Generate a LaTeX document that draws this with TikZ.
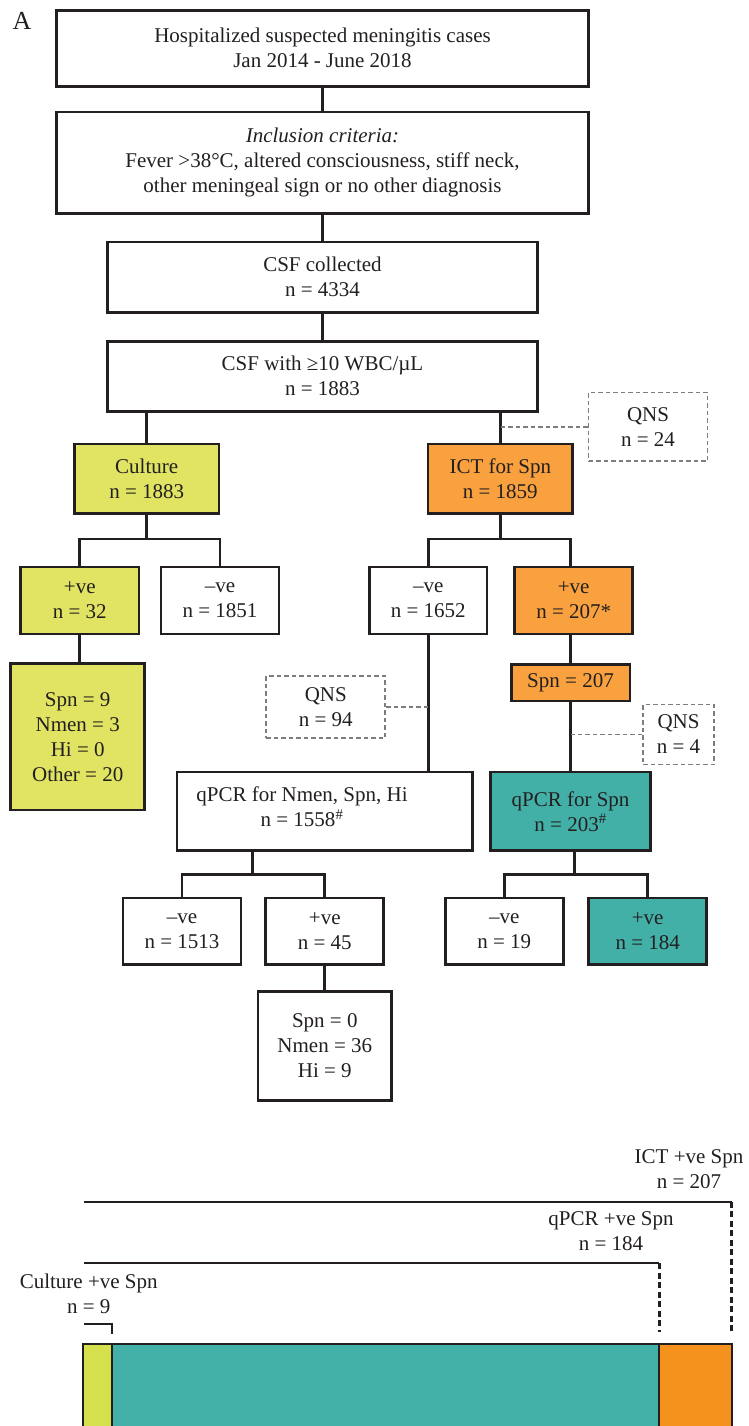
\documentclass[tikz,border=0pt]{standalone}
\usepackage{fontspec}
\setmainfont{Liberation Serif}
\definecolor{linec}{HTML}{231F20}
\definecolor{txt}{HTML}{231F20}
\definecolor{qgray}{HTML}{7D7D7D}
\definecolor{ybox}{HTML}{E0E462}
\definecolor{obox}{HTML}{F8A13E}
\definecolor{tbox}{HTML}{43B0A8}
\definecolor{barY}{HTML}{D6E04C}
\definecolor{barO}{HTML}{F5921E}
\definecolor{barT}{HTML}{44B1A8}
\tikzset{
  box/.style={draw=linec, line width=2.7pt, inner sep=0pt, align=center, text=txt,
    font=\fontsize{21}{25}\selectfont},
  qnsbox/.style={draw=qgray, line width=1.7pt, dash pattern=on 4.5pt off 3pt, inner sep=0pt,
    align=center, text=txt, font=\fontsize{21}{25}\selectfont},
  plain/.style={inner sep=0pt, align=center, text=txt, font=\fontsize{21}{25}\selectfont},
  conn/.style={draw=linec, line width=2.7pt, line join=miter},
  dconn/.style={draw=qgray, line width=1.7pt, dash pattern=on 4.5pt off 3pt},
  bline/.style={draw=linec, line width=2.2pt, line join=miter},
  dotv/.style={draw=linec, line width=3pt, dash pattern=on 6pt off 3.5pt},
  barseg/.style={draw=linec, line width=2pt},
}
\begin{document}
\begin{tikzpicture}[x=1pt,y=-1pt]
\useasboundingbox (0,0) rectangle (749,1426);

\node[inner sep=0pt, anchor=base west, text=txt, font=\fontsize{26}{30}\selectfont] (lblA) at (12.5,29.5) {A};

\node[box, minimum width=532pt, minimum height=76pt] (top) at (322.5,48.3)
  {Hospitalized suspected meningitis cases\\Jan 2014 - June 2018};
\node[box, minimum width=532pt, minimum height=101.6pt] (incl) at (322.5,162.8)
  {\textit{Inclusion criteria:}\\Fever >38°C, altered consciousness, stiff neck,\\other meningeal sign or no other diagnosis};
\node[box, minimum width=430.6pt, minimum height=70.3pt] (csf) at (322.5,277.2)
  {CSF collected\\n = 4334};
\node[box, minimum width=430.6pt, minimum height=70pt] (wbc) at (322.5,376.3)
  {CSF with ≥10 WBC/µL\\n = 1883};
\node[box, fill=ybox, minimum width=144.6pt, minimum height=69.6pt] (cult) at (146.7,478.8)
  {Culture\\n = 1883};
\node[box, fill=obox, minimum width=144.6pt, minimum height=69.6pt] (ict) at (500.3,478.8)
  {ICT for Spn\\n = 1859};
\node[qnsbox, minimum width=119pt, minimum height=68.7pt] (qns1) at (648,426.8)
  {QNS\\n = 24};

\node[box, fill=ybox, minimum width=118.3pt, minimum height=67pt] (cpos) at (79.8,600.5)
  {+ve\\n = 32};
\node[box, minimum width=118pt, minimum height=67pt] (cneg) at (220,600.5)
  {\textendash ve\\n = 1851};
\node[box, minimum width=117.6pt, minimum height=67pt] (ineg) at (428.2,600.5)
  {\textendash ve\\n = 1652};
\node[box, fill=obox, minimum width=118pt, minimum height=67pt] (ipos) at (573.7,600.5)
  {+ve\\n = 207*};

\node[box, fill=ybox, minimum width=134pt, minimum height=146.3pt] (cspn) at (77.7,736.8)
  {Spn = 9\\Nmen = 3\\Hi = 0\\Other = 20};
\node[qnsbox, minimum width=119pt, minimum height=62pt] (qns2) at (325.8,707.2)
  {QNS\\n = 94};
\node[box, fill=obox, minimum width=118.7pt, minimum height=36.3pt] (spn207) at (570.5,682.8)
  {Spn = 207};
\node[qnsbox, minimum width=71pt, minimum height=60pt] (qns3) at (678.5,734.5)
  {QNS\\n = 4};

\node[box, minimum width=295.6pt, minimum height=78.3pt] (qpcrN) at (324.8,811.2) {};
\node[plain] (qpcrNt) at (302,807) {qPCR for Nmen, Spn, Hi\\n = 1558\textsuperscript{\#}};
\node[box, fill=tbox, minimum width=160pt, minimum height=78.3pt] (qpcrS) at (570.5,811.2)
  {qPCR for Spn\\n = 203\textsuperscript{\#}};

\node[box, minimum width=118pt, minimum height=66.6pt] (nneg) at (182,931.3)
  {\textendash ve\\n = 1513};
\node[box, minimum width=118pt, minimum height=66.6pt] (npos) at (324.8,931.3)
  {+ve\\n = 45};
\node[box, minimum width=118pt, minimum height=66.6pt] (sneg) at (504.3,931.3)
  {\textendash ve\\n = 19};
\node[box, fill=tbox, minimum width=118pt, minimum height=66.6pt] (spos) at (647.7,931.3)
  {+ve\\n = 184};
\node[box, minimum width=133.6pt, minimum height=109pt] (nres) at (324.8,1045.8)
  {Spn = 0\\Nmen = 36\\Hi = 9};

% connectors
\draw[conn] (top.south) -- (incl.north);
\draw[conn] (incl.south) -- (csf.north);
\draw[conn] (csf.south) -- (wbc.north);
\draw[conn] (wbc.south -| cult.north) -- (cult.north);
\draw[conn] (wbc.south -| ict.north) -- (ict.north);
\draw[dconn] (qns1.west) -- (qns1.west -| ict.north);

\coordinate (cj) at (146.7,539);
\draw[conn] (cult.south) -- (cj);
\draw[conn] (cpos.north) |- (cj) -| (cneg.north);
\draw[conn] (cpos.south) -- (cpos.south |- cspn.north);

\coordinate (ij) at (500.3,539);
\draw[conn] (ict.south) -- (ij);
\draw[conn] (ineg.north) |- (ij) -| (spn207.north |- ipos.north);
\draw[conn] (spn207.north |- ipos.south) -- (spn207.north);
\draw[conn] (spn207.south) -- (qpcrS.north);
\draw[dconn] (qns3.west) -- (qns3.west -| spn207.south);
\draw[conn] (ineg.south) -- (ineg.south |- qpcrN.north);
\draw[dconn] (qns2.east) -- (qns2.east -| ineg.south);

\coordinate (nj) at (252.3,874.3);
\draw[conn] (nj |- qpcrN.south) -- (nj);
\draw[conn] (nneg.north) |- (nj) -| (npos.north);
\draw[conn] (npos.south) -- (nres.north);

\coordinate (sj) at (574.7,874.3);
\draw[conn] (sj |- qpcrS.south) -- (sj);
\draw[conn] (sneg.north) |- (sj) -| (spos.north);

% bottom summary bar
\node[plain] (ictlab) at (689,1169) {ICT +ve Spn\\n = 207};
\node[plain] (qpcrlab) at (611,1231.5) {qPCR +ve Spn\\n = 184};
\node[plain] (cultlab) at (88.7,1293.5) {Culture +ve Spn\\n = 9};

\coordinate (ictL) at (84,1201.7);
\coordinate (ictR) at (731.7,1201.7);
\coordinate (ictE) at (731.7,1331.7);
\coordinate (qL) at (84,1263.3);
\coordinate (qR) at (659,1263.3);
\coordinate (qE) at (659,1331.7);
\coordinate (cL) at (84,1324.3);
\coordinate (cR) at (112.3,1324.3);
\coordinate (cE) at (112.3,1334);

\draw[bline] (ictL) -- (ictR);
\draw[dotv] (ictR) -- (ictE);
\draw[bline] (qL) -- (qR);
\draw[dotv] (qR) -- (qE);
\draw[bline] (cL) -- (cR) -- (cE);

\filldraw[barseg, fill=barY] (83.3,1344.3) rectangle (112.3,1436);
\filldraw[barseg, fill=barT] (112.3,1344.3) rectangle (659,1436);
\filldraw[barseg, fill=barO] (659,1344.3) rectangle (732.3,1436);
\end{tikzpicture}
\end{document}
